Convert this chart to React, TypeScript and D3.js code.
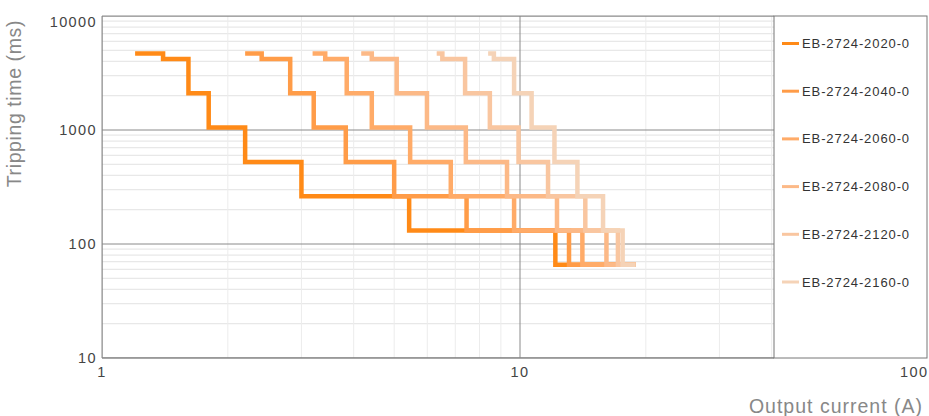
import React from 'react';
import * as d3 from 'd3';

// step curves: tripping time vs output current, one per module
const seriesNames = ["EB-2724-2020-0", "EB-2724-2040-0", "EB-2724-2060-0", "EB-2724-2080-0", "EB-2724-2120-0", "EB-2724-2160-0"];
const seriesColors = ["#ff8a17", "#ff9c48", "#ffab68", "#fcb987", "#f9c6a0", "#f5d3b7"];

// trip time levels (ms), same for every curve
const tripTimes = [4700, 4200, 2100, 1050, 525, 262.5, 131.25, 65.6];

// current where each level starts (A), last one is the end of the curve
const currents2020 = [1.2, 1.4, 1.61, 1.8, 2.2, 3.0, 5.43, 12.15, 18.9];
const currents2040 = [2.2, 2.41, 2.82, 3.21, 3.83, 5.0, 7.45, 13.1, 18.9];
const currents2060 = [3.19, 3.42, 3.85, 4.42, 5.46, 6.83, 9.68, 14.1, 18.9];
const currents2080 = [4.17, 4.42, 5.07, 5.99, 7.42, 9.31, 12.26, 16.1, 18.9];
const currents2120 = [6.32, 6.52, 7.39, 8.47, 9.92, 11.67, 14.33, 17.15, 18.9];
const currents2160 = [8.39, 8.66, 9.68, 10.66, 12.09, 13.72, 15.8, 17.6, 18.9];
const allCurrents = [currents2020, currents2040, currents2060, currents2080, currents2120, currents2160];

const xTicks = [1, 10, 100];
const yTicks = [10, 100, 1000, 10000];

export default function App() {
  const width = 929, height = 416;
  const left = 102, top = 16, bottom = 358;
  const legendX = 774;

  const x = d3.scaleLog().domain([1, 100]).range([left, 938]);
  const y = d3.scaleLog().domain([10, 10000]).range([bottom, top]);

  // minor grid values
  const minorX: number[] = [];
  for (let d = 1; d < 100; d *= 10) for (let k = 2; k <= 9; k++) minorX.push(d * k);
  const minorY: number[] = [];
  for (let d = 10; d < 10000; d *= 10) for (let k = 2; k <= 9; k++) minorY.push(d * k);

  const line = d3.line<[number, number]>()
    .x(d => x(d[0]))
    .y(d => y(d[1]))
    .curve(d3.curveStepAfter);

  const paths = allCurrents.map(cs => {
    const pts: [number, number][] = tripTimes.map((t, i) => [cs[i], t]);
    pts.push([cs[cs.length - 1], tripTimes[tripTimes.length - 1]]);
    return line(pts) || "";
  });

  const font = "'Liberation Sans', Arial, sans-serif";

  return (
    <svg width={width} height={height} style={{ position: 'absolute', left: 0, top: 0, fontFamily: font }}>
      <defs>
        <clipPath id="plot">
          <rect x={left} y={top} width={legendX - left} height={bottom - top} />
        </clipPath>
      </defs>
      <rect x={0} y={0} width={width} height={height} fill="#fff" />

      {/* grid */}
      <g clipPath="url(#plot)">
        {minorY.map(v => (
          <line key={"my" + v} x1={left} x2={legendX} y1={y(v)} y2={y(v)} stroke="#e8e8e8" strokeWidth={1.3} />
        ))}
        {minorX.map(v => (
          <line key={"mx" + v} x1={x(v)} x2={x(v)} y1={top} y2={bottom} stroke="#ececec" strokeWidth={1} />
        ))}
        {yTicks.map(v => (
          <line key={"gy" + v} x1={left} x2={legendX} y1={y(v)} y2={y(v)} stroke="#8a8a8a" strokeWidth={1} />
        ))}
        {xTicks.map(v => (
          <line key={"gx" + v} x1={x(v)} x2={x(v)} y1={top} y2={bottom} stroke="#8a8a8a" strokeWidth={1} />
        ))}
      </g>
      <line x1={left} x2={left} y1={top} y2={bottom} stroke="#8a8a8a" />
      <line x1={left} x2={legendX} y1={bottom} y2={bottom} stroke="#8a8a8a" strokeWidth={1.5} />
      <line x1={left} x2={legendX} y1={top} y2={top} stroke="#8a8a8a" />

      {/* curves */}
      {paths.map((p, i) => (
        <path key={seriesNames[i]} d={p} fill="none" stroke={seriesColors[i]} strokeWidth={4.5} strokeLinejoin="miter" strokeLinecap="butt" />
      ))}

      {/* tick labels */}
      {yTicks.map(v => (
        <text key={"ty" + v} x={97} y={Math.max(y(v), 22)} dy="0.35em" textAnchor="end" fontSize={14.5} fill="#444" letterSpacing={1.4}>{v}</text>
      ))}
      {xTicks.map(v => {
        const last = v === 100;
        return (
          <text key={"tx" + v} x={last ? 900 : x(v)} y={372} dy="0.35em" textAnchor={last ? "start" : "middle"} fontSize={14.5} fill="#444" letterSpacing={1.4}>{v}</text>
        );
      })}

      {/* axis titles */}
      <text transform="translate(21,20) rotate(-90)" textAnchor="end" fontSize={19.5} fill="#888" letterSpacing={0.6}>Tripping time (ms)</text>
      <text x={923} y={413} textAnchor="end" fontSize={19.5} fill="#888" letterSpacing={1}>Output current (A)</text>

      {/* legend */}
      <rect x={legendX} y={top} width={927 - legendX} height={bottom - top} fill="#fff" stroke="#777" strokeWidth={1} />
      {seriesNames.map((name, i) => {
        const ly = 43.5 + i * 47.7;
        return (
          <g key={"lg" + name}>
            <line x1={782} x2={799} y1={ly} y2={ly} stroke={seriesColors[i]} strokeWidth={3} />
            <text x={802} y={ly} dy="0.35em" fontSize={13} fill="#333" letterSpacing={0.9}>{name}</text>
          </g>
        );
      })}
    </svg>
  );
}
